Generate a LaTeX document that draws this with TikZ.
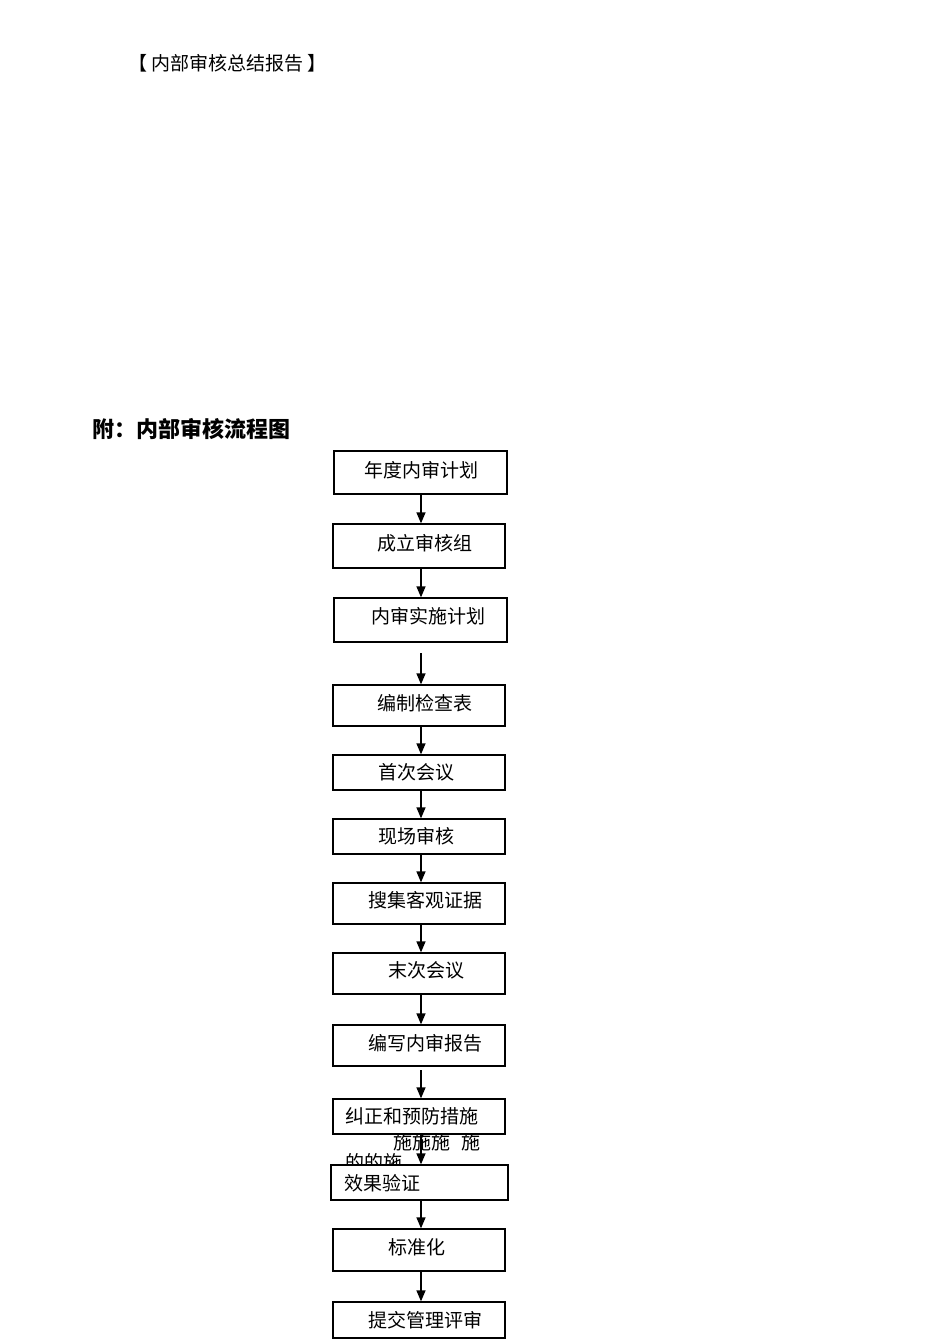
\documentclass[tikz,border=0pt]{standalone}
\usepackage{fontspec}
\setmainfont{Noto Sans CJK SC}
\usetikzlibrary{arrows.meta}
\tikzset{
  box/.style={draw=black, line width=1.3pt, fill=white, rectangle, inner sep=0pt},
  lbl/.style={anchor=west, inner sep=0pt, font=\fontsize{19pt}{21pt}\selectfont},
  arr/.style={line width=1.3pt, -{Triangle[length=11pt,width=9pt]}},
}
\begin{document}
\begin{tikzpicture}[x=1pt,y=-1pt]
\useasboundingbox (0,0) rectangle (950,1344);
\fill[white] (0,0) rectangle (950,1344);
% headings
\node[lbl] (t1) at (128,63) {【\hspace{4pt}内部审核总结报告\hspace{4pt}】};
\node[lbl, font=\fontsize{22pt}{24pt}\selectfont\bfseries] (t2) at (92,429) {附：内部审核流程图};
% garbled overflow text (drawn before boxes so box 11 covers it)
\node[lbl] (g1) at (393,1142) {施施施\hspace{11pt}施};
\node[lbl] (g2) at (345,1162) {的的施};
% boxes
\node[box, minimum width=173pt, minimum height=43pt] (b1) at (420.5,472.5) {};
\node[box, minimum width=172pt, minimum height=44pt] (b2) at (419,546) {};
\node[box, minimum width=173pt, minimum height=44pt] (b3) at (420.5,620) {};
\node[box, minimum width=172pt, minimum height=41pt] (b4) at (419,705.5) {};
\node[box, minimum width=172pt, minimum height=35pt] (b5) at (419,772.5) {};
\node[box, minimum width=172pt, minimum height=35pt] (b6) at (419,836.5) {};
\node[box, minimum width=172pt, minimum height=41pt] (b7) at (419,903.5) {};
\node[box, minimum width=172pt, minimum height=41pt] (b8) at (419,973.5) {};
\node[box, minimum width=172pt, minimum height=41pt] (b9) at (419,1045.5) {};
\node[box, minimum width=172pt, minimum height=35pt] (b10) at (419,1116.5) {};
\node[box, minimum width=177pt, minimum height=35pt] (b11) at (419.5,1182.5) {};
\node[box, minimum width=172pt, minimum height=42pt] (b12) at (419,1250) {};
\node[box, minimum width=172pt, minimum height=36pt] (b13) at (419,1320) {};
% labels
\node[lbl] (l1) at (364,470) {年度内审计划};
\node[lbl] (l2) at (377,543) {成立审核组};
\node[lbl] (l3) at (371,616) {内审实施计划};
\node[lbl] (l4) at (377,703) {编制检查表};
\node[lbl] (l5) at (378,772) {首次会议};
\node[lbl] (l6) at (378,836) {现场审核};
\node[lbl] (l7) at (368,900) {搜集客观证据};
\node[lbl] (l8) at (388,970) {末次会议};
\node[lbl] (l9) at (368,1043) {编写内审报告};
\node[lbl] (l10) at (345,1116) {纠正和预防措施};
\node[lbl] (l11) at (344,1183) {效果验证};
\node[lbl] (l12) at (388,1247) {标准化};
\node[lbl] (l13) at (368,1320) {提交管理评审};
% arrows
\coordinate (ax) at (421,0);
\coordinate (s3) at (421,653);
\coordinate (s9) at (421,1070);
\draw[arr] (b1.south -| ax) -- (b2.north -| ax);
\draw[arr] (b2.south -| ax) -- (b3.north -| ax);
\draw[arr] (s3) -- (b4.north -| ax);
\draw[arr] (b4.south -| ax) -- (b5.north -| ax);
\draw[arr] (b5.south -| ax) -- (b6.north -| ax);
\draw[arr] (b6.south -| ax) -- (b7.north -| ax);
\draw[arr] (b7.south -| ax) -- (b8.north -| ax);
\draw[arr] (b8.south -| ax) -- (b9.north -| ax);
\draw[arr] (s9) -- (b10.north -| ax);
\draw[arr] (b10.south -| ax) -- (b11.north -| ax);
\draw[arr] (b11.south -| ax) -- (b12.north -| ax);
\draw[arr] (b12.south -| ax) -- (b13.north -| ax);
\end{tikzpicture}
\end{document}
